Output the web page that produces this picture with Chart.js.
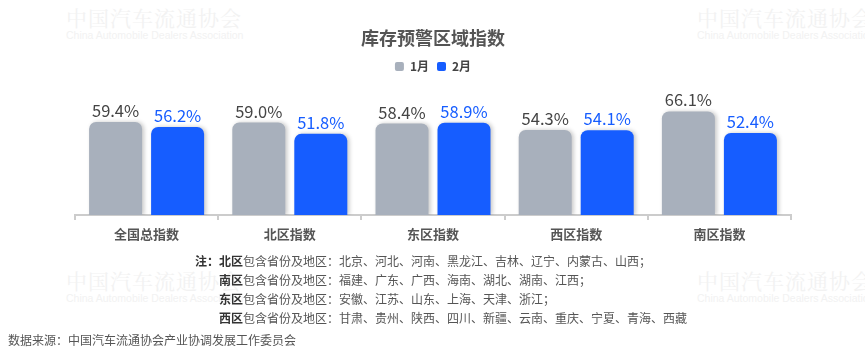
<!DOCTYPE html>
<html><head><meta charset="utf-8">
<script src="https://cdn.jsdelivr.net/npm/chart.js@4"></script>
<style>
html,body{margin:0;padding:0;background:#fff;}
#wrap{position:relative;width:865px;height:356px;overflow:hidden;font-family:"Noto Sans CJK SC","Noto Sans",sans-serif;}
canvas{position:absolute;left:0;top:0;z-index:2;}
.wm{position:absolute;z-index:1;color:#f2f2f2;white-space:nowrap;}
.wm .cn{font-family:"Noto Serif CJK SC","Noto Sans CJK SC",serif;font-size:21px;line-height:24px;letter-spacing:1px;}
.wm .en{font-family:"Liberation Sans",Arial,sans-serif;font-size:10.5px;line-height:12px;}
.note{position:absolute;z-index:3;font-size:12px;color:#555;white-space:nowrap;line-height:19px;}
.note b{color:#333;font-weight:bold;}
</style></head>
<body><div id="wrap">
<div class="wm" style="left:66px;top:5px"><div class="cn">中国汽车流通协会</div><div class="en">China Automobile Dealers Association</div></div>
<div class="wm" style="left:697px;top:5px"><div class="cn">中国汽车流通协会</div><div class="en">China Automobile Dealers Association</div></div>
<div class="wm" style="left:66px;top:268px"><div class="cn">中国汽车流通协会</div><div class="en">China Automobile Dealers Association</div></div>
<div class="wm" style="left:697px;top:268px"><div class="cn">中国汽车流通协会</div><div class="en">China Automobile Dealers Association</div></div>
<canvas id="c" width="865" height="356"></canvas>
<div class="note" style="left:195px;top:251px"><b>注：</b></div>
<div class="note" style="left:219px;top:251px"><b>北区</b>包含省份及地区：北京、河北、河南、黑龙江、吉林、辽宁、内蒙古、山西；</div>
<div class="note" style="left:219px;top:270px"><b>南区</b>包含省份及地区：福建、广东、广西、海南、湖北、湖南、江西；</div>
<div class="note" style="left:219px;top:289px"><b>东区</b>包含省份及地区：安徽、江苏、山东、上海、天津、浙江；</div>
<div class="note" style="left:219px;top:308px"><b>西区</b>包含省份及地区：甘肃、贵州、陕西、四川、新疆、云南、重庆、宁夏、青海、西藏</div>
<div class="note" style="left:8px;top:330px;color:#555">数据来源：中国汽车流通协会产业协调发展工作委员会</div>
</div>
<script>
const categories = ["全国总指数", "北区指数", "东区指数", "西区指数", "南区指数"];
const janValues = [59.4, 59.0, 58.4, 54.3, 66.1];
const febValues = [56.2, 51.8, 58.9, 54.1, 52.4];
const seriesNames = ["1月", "2月"];
const titleText = "库存预警区域指数";

const FONT = '"Noto Sans CJK SC","Noto Sans",sans-serif';
const GRAY = '#A8B0BC';
const BLUE = '#165DFF';

const shadowPlugin = {
  id: 'barShadow',
  beforeDatasetsDraw(chart) {
    const ctx = chart.ctx;
    ctx.save();
    ctx.shadowColor = 'rgba(0,0,0,0.22)';
    ctx.shadowBlur = 4;
    ctx.shadowOffsetX = 2;
    ctx.shadowOffsetY = 0;
  },
  afterDatasetsDraw(chart) {
    const ctx = chart.ctx;
    ctx.restore();
    ctx.save();
    ctx.font = '16.5px ' + FONT;
    ctx.textAlign = 'center';
    ctx.textBaseline = 'bottom';
    chart.data.datasets.forEach((ds, di) => {
      const meta = chart.getDatasetMeta(di);
      ctx.fillStyle = di === 0 ? '#444' : BLUE;
      meta.data.forEach((el, i) => {
        ctx.fillText(ds.data[i].toFixed(1) + '%', el.x, el.y - 3);
      });
    });
    ctx.restore();
  }
};

new Chart(document.getElementById('c'), {
  type: 'bar',
  data: {
    labels: categories,
    datasets: [
      { label: seriesNames[0], data: janValues, backgroundColor: GRAY, borderRadius: {topLeft: 7, topRight: 7}, borderSkipped: 'bottom', categoryPercentage: 0.866, barPercentage: 0.855 },
      { label: seriesNames[1], data: febValues, backgroundColor: BLUE, borderRadius: {topLeft: 7, topRight: 7}, borderSkipped: 'bottom', categoryPercentage: 0.866, barPercentage: 0.855 }
    ]
  },
  options: {
    responsive: false,
    animation: false,
    layout: { padding: { left: 75, right: 74, top: 0, bottom: 0 } },
    plugins: {
      title: { display: true, text: titleText, color: '#555', font: { family: FONT, size: 18, weight: 'bold' }, padding: { top: 27, bottom: 4 } },
      legend: {
        display: true,
        labels: { boxWidth: 9, boxHeight: 9, useBorderRadius: true, borderRadius: 2, color: '#444', font: { family: FONT, size: 12, weight: 'bold' }, padding: 8 }
      },
      tooltip: { enabled: false }
    },
    scales: {
      x: {
        grid: { display: true, drawOnChartArea: false, drawTicks: true, tickLength: 5, color: '#cccccc', lineWidth: 2 },
        border: { display: true, color: '#cccccc', width: 2 },
        ticks: { color: '#555', font: { family: FONT, size: 13, weight: 'bold' }, padding: 6 },
        afterFit(scale) { scale.height = 141; }
      },
      y: { display: false, min: 0, max: 84.5 }
    }
  },
  plugins: [shadowPlugin]
});
</script>
</body></html>
